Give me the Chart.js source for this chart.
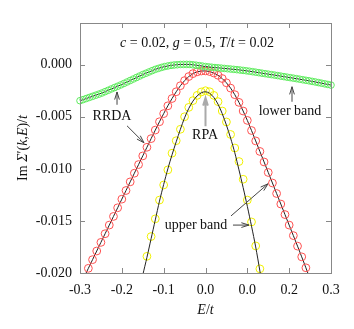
<!DOCTYPE html>
<html>
<head>
<meta charset="utf-8">
<script src="https://cdn.jsdelivr.net/npm/chart.js@4.4.1/dist/chart.umd.min.js"></script>
<style>
  html, body { margin: 0; padding: 0; background: #fff; }
  canvas { display: block; }
</style>
</head>
<body>
<canvas id="myChart" width="354" height="329"></canvas>
<script>
    // axis ticks (the reference really prints 0.0 twice)
    const xTicks = [-0.3, -0.2, -0.1, 0, 0.1, 0.2, 0.3];
    const xTickLabels = ['-0.3', '-0.2', '-0.1', '0.0', '0.0', '0.2', '0.3'];
    const yTicks = [-0.02, -0.015, -0.01, -0.005, 0];
    const yTickLabels = ['-0.020', '-0.015', '-0.010', '-0.005', '0.000'];

    // values below are Im Sigma / t in units of 1e-3
    // lower band, RRDA (green circles)
    const lowerX = [-0.3,-0.2925,-0.285,-0.2775,-0.27,-0.2625,-0.255,-0.2475,-0.24,-0.2325,
      -0.225,-0.2175,-0.21,-0.2025,-0.195,-0.1875,-0.18,-0.1725,-0.165,-0.1575,
      -0.15,-0.1425,-0.135,-0.1275,-0.12,-0.1125,-0.105,-0.0975,-0.09,-0.0825,
      -0.075,-0.0675,-0.06,-0.0525,-0.045,-0.0375,-0.03,-0.0225,-0.015,-0.0075,
      0,0.0075,0.015,0.0225,0.03,0.0375,0.045,0.0525,0.06,0.0675,
      0.075,0.0825,0.09,0.0975,0.105,0.1125,0.12,0.1275,0.135,0.1425,
      0.15,0.1575,0.165,0.1725,0.18,0.1875,0.195,0.2025,0.21,0.2175,
      0.225,0.2325,0.24,0.2475,0.255,0.2625,0.27,0.2775,0.285,0.2925,0.3];
    const lowerRRDA = [-3.46,-3.355,-3.25,-3.145,-3.04,-2.935,-2.83,-2.717,-2.588,-2.459,
      -2.33,-2.201,-2.072,-1.943,-1.805,-1.663,-1.52,-1.378,-1.235,-1.093,
      -0.95,-0.825,-0.70,-0.575,-0.45,-0.356,-0.263,-0.181,-0.125,-0.069,
      -0.032,-0.006,0.02,0.024,0.028,0.02,-0.015,-0.05,-0.09,-0.135,
      -0.18,-0.214,-0.248,-0.279,-0.305,-0.331,-0.36,-0.39,-0.42,-0.45,
      -0.48,-0.513,-0.55,-0.588,-0.63,-0.675,-0.72,-0.769,-0.818,-0.865,
      -0.91,-0.955,-1.0,-1.05,-1.1,-1.15,-1.2,-1.246,-1.295,-1.344,
      -1.395,-1.448,-1.5,-1.55,-1.605,-1.66,-1.72,-1.78,-1.84,-1.9,-1.96];

    // upper band, RRDA (red circles)
    const upperX = [-0.29,-0.28,-0.27,-0.26,-0.25,-0.24,-0.23,-0.22,-0.21,-0.2,
      -0.19,-0.18,-0.17,-0.16,-0.15,-0.14,-0.13,-0.12,-0.11,-0.1,
      -0.09,-0.08,-0.07,-0.06,-0.05,-0.04,-0.03,-0.02,-0.01,0,
      0.01,0.02,0.03,0.04,0.05,0.06,0.07,0.08,0.09,0.1,
      0.11,0.12,0.13,0.14,0.15,0.16,0.17,0.18,0.19,0.2,
      0.21,0.22,0.23,0.24,0.25];
    const upperRRDA = [-20.38,-19.55,-18.72,-17.89,-17.06,-16.23,-15.40,-14.57,-13.74,-12.91,
      -12.08,-11.25,-10.42,-9.59,-8.76,-7.93,-7.10,-6.28,-5.48,-4.70,
      -3.95,-3.25,-2.60,-2.02,-1.53,-1.14,-0.86,-0.69,-0.61,-0.60,
      -0.66,-0.80,-1.02,-1.33,-1.74,-2.25,-2.88,-3.62,-4.45,-5.35,
      -6.32,-7.32,-8.33,-9.34,-10.35,-11.36,-12.37,-13.38,-14.39,-15.40,
      -16.41,-17.42,-18.45,-19.50,-20.6];

    // upper band, RPA: black curve and yellow circles
    const rpaLineX = [-0.15,-0.14,-0.13,-0.12,-0.11,-0.1,-0.09,-0.08,-0.07,-0.06,
      -0.05,-0.04,-0.03,-0.02,-0.01,0,0.01,0.02,0.03,0.04,
      0.05,0.06,0.07,0.08,0.09,0.1,0.11,0.12,0.13,0.14];
    const rpaLine = [-20.2,-18.5,-16.7,-14.9,-13.1,-11.5,-10.0,-8.65,-7.4,-6.2,
      -5.1,-4.2,-3.5,-3.0,-2.7,-2.6,-2.75,-3.15,-3.8,-4.7,
      -5.8,-7.05,-8.45,-10.1,-11.8,-13.6,-15.5,-17.5,-19.8,-22.2];
    const rpaPointX = [-0.14,-0.13,-0.12,-0.11,-0.1,-0.09,-0.08,-0.07,-0.06,-0.05,
      -0.04,-0.03,-0.02,-0.01,0,0.01,0.02,0.03,0.04,0.05,
      0.06,0.07,0.08,0.09,0.1,0.11,0.12,0.13];
    const rpaPoints = [-18.4,-16.5,-14.8,-13.0,-11.55,-10.1,-8.5,-7.3,-6.2,-5.0,
      -4.1,-3.45,-2.95,-2.62,-2.5,-2.6,-2.95,-3.55,-4.45,-5.5,
      -6.7,-8.0,-9.3,-11.0,-13.0,-15.1,-17.4,-19.6];

    const MILLI = 1e-3;
    const yMin = -0.02;
    const yMax = 0.004;
    const pts = (xs, ys) => xs.map((x, i) => ({x: x, y: ys[i] * MILLI}));

    // labels and arrows, placed in data units
    const notes = [
      {text: 'RRDA', x: -0.2235, y: -0.0050},
      {text: 'RPA', x: -0.001, y: -0.0068},
      {text: 'lower band', x: 0.202, y: -0.0045},
      {text: 'upper band', x: -0.0227, y: -0.0154}
    ];
    const arrows = [
      {from: [-0.2115, -0.00385], to: [-0.2115, -0.00262], color: '#444', width: 1},
      {from: [-0.1876, -0.00587], to: [-0.147, -0.0075], color: '#444', width: 1},
      {from: [0.0, -0.0059], to: [0.0, -0.0032], color: '#aaa', width: 2},
      {from: [0.2068, -0.00356], to: [0.2068, -0.00212], color: '#444', width: 1},
      {from: [0.061, -0.01452], to: [0.1494, -0.01144], color: '#444', width: 1},
      {from: [0.0657, -0.0154], to: [0.104, -0.0154], color: '#444', width: 1}
    ];

    const serif = '"Liberation Serif", "Times New Roman", serif';
    const fontOf = (italic) => (italic ? 'italic ' : '') + '14px ' + serif;

    function drawRich(ctx, parts, cx, cy, rot) {
        ctx.save();
        ctx.translate(cx, cy);
        if (rot) ctx.rotate(rot);
        let w = 0;
        parts.forEach(([t, it]) => { ctx.font = fontOf(it); w += ctx.measureText(t).width; });
        let xx = -w / 2;
        ctx.textAlign = 'left';
        ctx.textBaseline = 'middle';
        parts.forEach(([t, it]) => {
            ctx.font = fontOf(it);
            ctx.fillText(t, xx, 0);
            xx += ctx.measureText(t).width;
        });
        ctx.restore();
    }

    function drawArrow(ctx, x1, y1, x2, y2, color, width) {
        const ang = Math.atan2(y2 - y1, x2 - x1);
        const head = 8;
        const spread = 0.3;
        ctx.save();
        ctx.strokeStyle = color;
        ctx.lineWidth = width;
        ctx.beginPath();
        ctx.moveTo(x1, y1);
        ctx.lineTo(x2, y2);
        ctx.moveTo(x2 - head * Math.cos(ang - spread), y2 - head * Math.sin(ang - spread));
        ctx.lineTo(x2, y2);
        ctx.lineTo(x2 - head * Math.cos(ang + spread), y2 - head * Math.sin(ang + spread));
        ctx.stroke();
        ctx.restore();
    }

    const frameAndNotes = {
        id: 'frameAndNotes',
        afterDraw(chart) {
            const {ctx, chartArea: {left, right, top, bottom}, scales: {x, y}} = chart;
            ctx.save();

            // box with inward ticks on all four sides
            ctx.strokeStyle = '#888';
            ctx.lineWidth = 1;
            ctx.strokeRect(left + 0.5, top + 0.5, right - left, bottom - top);
            ctx.beginPath();
            xTicks.forEach(v => {
                const px = Math.round(x.getPixelForValue(v)) + 0.5;
                ctx.moveTo(px, bottom); ctx.lineTo(px, bottom - 5);
                ctx.moveTo(px, top); ctx.lineTo(px, top + 5);
            });
            yTicks.forEach(v => {
                const py = Math.round(y.getPixelForValue(v)) + 0.5;
                ctx.moveTo(left, py); ctx.lineTo(left + 5, py);
                ctx.moveTo(right, py); ctx.lineTo(right - 5, py);
            });
            ctx.stroke();

            ctx.fillStyle = '#111';

            // parameters line
            drawRich(ctx, [['c', true], [' = 0.02, ', false], ['g', true], [' = 0.5, ', false],
                ['T', true], ['/', false], ['t', true], [' = 0.02', false]],
                x.getPixelForValue(-0.0203), y.getPixelForValue(0.00202));

            // axis titles
            drawRich(ctx, [['E', true], ['/', false], ['t', true]], (left + right) / 2, bottom + 37);
            drawRich(ctx, [['Im ', false], ['\u03A3', true], ['\u2032', false], ['(', false], ['k', true],
                [',', false], ['E', true], [')/', false], ['t', true]],
                23, (top + bottom) / 2, -Math.PI / 2);

            notes.forEach(n => {
                drawRich(ctx, [[n.text, false]], x.getPixelForValue(n.x), y.getPixelForValue(n.y));
            });
            arrows.forEach(a => {
                drawArrow(ctx,
                    x.getPixelForValue(a.from[0]), y.getPixelForValue(a.from[1]),
                    x.getPixelForValue(a.to[0]), y.getPixelForValue(a.to[1]),
                    a.color, a.width);
            });
            ctx.restore();
        }
    };

    // hide circles whose centre falls below the axis
    const radiusInside = (r) => (c) => (c.raw && c.raw.y < yMin ? 0 : r);

    Chart.defaults.font.family = serif;
    Chart.defaults.font.size = 14;
    Chart.defaults.color = '#111';

    const config = {
      type: 'scatter',
      data: {
        datasets: [
          {
            label: 'lower band RRDA',
            data: pts(lowerX, lowerRRDA),
            showLine: true,
            borderColor: '#222',
            borderWidth: 1,
            pointRadius: 3.3,
            pointBorderWidth: 1,
            pointBorderColor: 'rgb(95, 235, 95)',
            pointBackgroundColor: 'rgba(0,0,0,0)',
            clip: false
          },
          {
            label: 'upper band RRDA',
            data: pts(upperX, upperRRDA),
            showLine: true,
            borderColor: '#222',
            borderWidth: 1,
            pointRadius: radiusInside(3.9),
            pointBorderWidth: 1,
            pointBorderColor: 'rgb(255, 80, 80)',
            pointBackgroundColor: 'rgba(0,0,0,0)'
          },
          {
            label: 'upper band RPA',
            data: pts(rpaLineX, rpaLine),
            showLine: true,
            tension: 0.3,
            borderColor: '#222',
            borderWidth: 1,
            pointRadius: 0
          },
          {
            label: 'upper band RPA points',
            data: pts(rpaPointX, rpaPoints),
            showLine: false,
            pointRadius: radiusInside(3.9),
            pointBorderWidth: 1,
            pointBorderColor: 'rgb(240, 240, 0)',
            pointBackgroundColor: 'rgba(0,0,0,0)'
          }
        ]
      },
      options: {
        responsive: false,
        animation: false,
        devicePixelRatio: 1,
        layout: { padding: { left: 0, right: 23, top: 23, bottom: 0 } },
        plugins: {
          legend: { display: false },
          tooltip: { enabled: false }
        },
        scales: {
          x: {
            type: 'linear',
            min: -0.3,
            max: 0.3,
            grid: { display: false, drawTicks: false },
            border: { display: false },
            afterBuildTicks: (axis) => { axis.ticks = xTicks.map(v => ({value: v})); },
            afterFit: (axis) => { axis.height = 56; },
            ticks: {
              padding: 9,
              maxRotation: 0,
              callback: (value, index) => xTickLabels[index]
            }
          },
          y: {
            min: yMin,
            max: yMax,
            grid: { display: false, drawTicks: false },
            border: { display: false },
            afterBuildTicks: (axis) => { axis.ticks = yTicks.map(v => ({value: v})); },
            afterFit: (axis) => { axis.width = 80; },
            ticks: {
              padding: 8,
              callback: (value, index) => yTickLabels[index]
            }
          }
        }
      },
      plugins: [frameAndNotes]
    };

    const myChart = new Chart(document.getElementById('myChart'), config);
</script>
</body>
</html>
